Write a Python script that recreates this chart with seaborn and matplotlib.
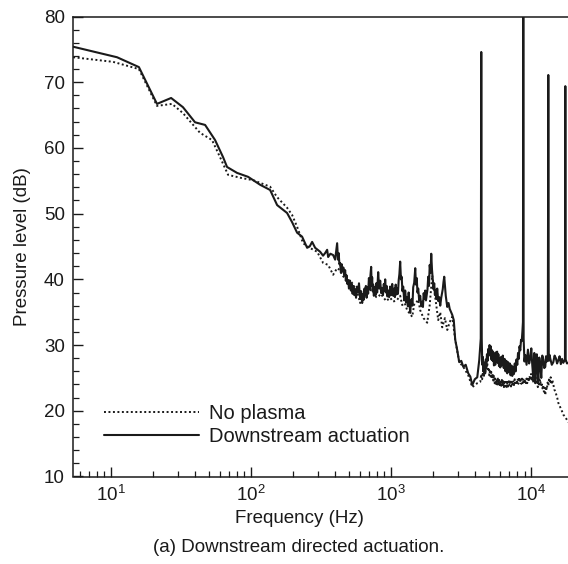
import matplotlib
matplotlib.use("Agg")
import matplotlib.pyplot as plt
import numpy as np
import pandas as pd
import seaborn as sns
from matplotlib.ticker import LogLocator, MultipleLocator, NullFormatter

# ---------------- data ----------------
freq_no_plasma = [
    5.4, 10.4, 15.9, 21.4, 27.4, 32.8, 43.4, 52.9, 60.3, 68.9,
    86.7, 103.8, 137.4, 154.2, 181.6, 197.2, 214.1, 236.3, 263, 297.6,
    328.5, 356.6, 387.1, 413, 434.4, 456, 487.4, 511, 538, 575,
    603.6, 633, 676.9, 711, 747.3, 786, 811.6, 846, 881, 926,
    988, 1038, 1109, 1165, 1204, 1255, 1307, 1374, 1420, 1470,
    1520, 1567, 1619, 1710, 1817, 1893, 1972, 2072, 2177, 2250,
    2325, 2430, 2525, 2630, 2741, 2879, 3075, 3285, 3566, 3808,
    4135,
    4344, 4420, 4480, 4540, 4600, 4660, 4716, 4770, 4820, 4874,
    4930, 4990, 5040, 5100, 5160, 5210, 5270, 5330, 5380, 5440,
    5500, 5559, 5620, 5680, 5745, 5810, 5870, 5930, 5990, 6060,
    6130, 6200, 6270, 6340, 6410, 6480, 6560, 6640, 6720, 6800,
    6880, 6960, 7040, 7120, 7200, 7290, 7380, 7470, 7560, 7650,
    7740, 7830, 7930, 8030, 8130, 8230, 8330, 8430, 8530, 8630,
    8740, 8850, 8960, 9070, 9180, 9290, 9400, 9520, 9640, 9760,
    9886, 10010, 10130, 10260, 10390, 10520, 10650, 10790, 10920, 11060,
    11190, 11330, 11470, 11620, 11760, 11910, 12060, 12210, 12360, 12520,
    12650, 12810, 12970, 13130, 13300, 13470, 13640, 13820, 14000, 14200,
    14440, 14680, 14920, 15170, 15420, 15670, 16000, 16330, 16670, 17010,
    17350, 17710, 18090, 18470, 19500,
]
level_no_plasma = [
    73.8, 73.1, 72.0, 66.4, 66.7, 65.3, 62.3, 61.2, 58.6, 55.9,
    55.4, 55.1, 54.1, 52.5, 50.9, 49.8, 48.0, 45.5, 44.8, 44.2,
    42.5, 42.2, 40.7, 41.7, 41.4, 40.5, 39.6, 39.9, 39.2, 38.1,
    36.4, 37.5, 37.6, 38.4, 38.1, 37.3, 37.3, 37.8, 37.3, 36.7,
    37.2, 36.6, 36.9, 37.5, 36.1, 36.4, 35.3, 34.7, 34.3, 36.3,
    36.5, 36.9, 35.3, 34.1, 33.4, 36.1, 40.6, 37.3, 33.8, 35.0,
    32.7, 34.1, 32.3, 33.5, 34.3, 30.8, 27.4, 26.7, 25.4, 23.6,
    24.2,
    24.4, 25.6, 24.8, 25.9, 25.1, 26.5, 25.7, 27.2, 26.4, 27.3,
    26.0, 26.6, 25.4, 26.3, 25.2, 25.9, 24.9, 25.6, 24.6, 25.3,
    24.2, 24.9, 23.9, 24.8, 24.0, 24.9, 23.9, 24.7, 23.7, 24.6,
    23.8, 24.7, 23.7, 24.5, 23.6, 24.6, 23.7, 24.4, 23.6, 24.6,
    23.7, 24.5, 23.8, 24.7, 23.7, 24.5, 23.7, 24.6, 23.9, 24.8,
    23.9, 24.6, 24.0, 24.9, 24.1, 25.1, 24.3, 25.0, 24.1, 24.9,
    24.2, 24.9, 24.1, 24.8, 24.0, 24.9, 24.2, 25.1, 24.4, 25.3,
    24.7, 25.6, 24.5, 25.3, 24.3, 25.0, 24.2, 25.1, 24.0, 24.7,
    23.6, 24.8, 24.0, 24.8, 23.8, 24.3, 23.4, 23.9, 22.9, 23.5,
    22.4, 23.7, 23.2, 24.3, 23.8, 25.0, 24.2, 25.1, 24.0, 24.7,
    24.0, 23.2, 23.0, 22.4, 21.9, 21.2, 20.8, 20.3, 19.9, 19.4,
    19.2, 18.9, 18.6, 18.3, 17.9,
]

freq_downstream = [
    5.4, 11.1, 15.9, 21.4, 27.0, 32.8, 40.0, 47.2, 55.6, 63.4, 67.7, 79.8, 95.7, 116.5,
    137.4, 154.2, 181.6, 197.2, 214.1, 232.4, 252.5, 263, 274.1, 288, 312.6, 328, 339.5,
    350.8, 356.6, 370, 387.1, 400,
    413.4, 419, 424, 429, 434, 440, 446, 452, 458, 465, 471.6, 477, 483, 489, 495.5, 502,
    511, 518, 526, 533, 540, 548, 556, 564, 573, 584, 592, 603, 613, 623.7, 632, 640, 648,
    655, 663, 671, 680, 688, 697, 705, 714, 723, 729, 735, 741, 747, 756, 766, 776, 786,
    798, 811.6, 825, 839, 853, 867, 878, 890, 900, 910.5, 922, 933, 945, 956.6, 972, 988,
    1005, 1022, 1039, 1056, 1069, 1082, 1096, 1109, 1123, 1137, 1150, 1165, 1180, 1194,
    1209, 1224, 1245, 1265, 1285, 1307, 1322, 1339, 1356, 1374, 1390, 1408, 1425, 1443,
    1467, 1492, 1510, 1529, 1548, 1567, 1592, 1619, 1646, 1673, 1694, 1714, 1736, 1758,
    1780, 1802, 1825, 1847, 1870, 1893, 1917, 1941, 1965, 1990, 2014, 2038, 2064, 2090,
    2115, 2141, 2177, 2213, 2250, 2287, 2315, 2345, 2374, 2403, 2433, 2464, 2494, 2525,
    2580, 2630, 2690, 2741, 2810, 2879,
    2960, 3075, 3180, 3285, 3420, 3566, 3690, 3808, 3970, 4135, 4272, 4380, 4416,
    4450, 4490, 4530, 4562, 4600, 4640, 4680, 4716, 4760, 4800,
    4850, 4900, 4950, 5010, 5060, 5121, 5170, 5220, 5280, 5330,
    5390, 5440, 5500, 5559, 5620, 5670, 5730, 5790, 5850, 5910,
    5970, 6036, 6120, 6200, 6290, 6390, 6480, 6580, 6680, 6773,
    6860, 6960, 7060, 7150, 7250, 7351, 7450, 7560, 7660, 7770,
    7870, 7985, 8080, 8180, 8280, 8385, 8490, 8590, 8680, 8760,
    8810, 8860,
    8980, 9100, 9300, 9510, 9700, 9886, 10050, 10210, 10380, 10560,
    10730, 10910, 11000, 11092, 11280, 11460, 11650, 11840, 12040, 12240,
    12440, 12650, 12800, 12960, 13180, 13290, 13400, 13570, 13740, 14080,
    14430, 14740, 15050, 15350, 15670, 16000, 16330, 16670, 17010, 17300,
    17480, 17580, 17680, 18070, 18470, 19500,
]
level_downstream = [
    75.4, 73.8, 72.3, 66.7, 67.6, 66.2, 63.9, 63.5, 61.2, 58.6, 57.1, 56.2, 55.6, 54.4,
    53.6, 51.3, 50.1, 48.7, 47.1, 46.5, 44.8, 45.0, 45.7, 44.8, 44.2, 43.6, 44.0,
    44.5, 43.4, 43.9, 43.7, 43.0,
    45.5, 43.0, 44.0, 42.3, 42.5, 41.0, 42.3, 41.2, 41.8, 40.6, 41.4, 39.8, 40.6, 39.3, 39.9, 38.6,
    39.8, 38.3, 39.3, 37.8, 39.0, 37.6, 38.5, 37.2, 38.9, 38.0, 39.4, 37.0, 38.2, 36.4, 37.8, 36.9, 38.6,
    37.7, 39.0, 37.2, 38.8, 37.9, 40.2, 38.5, 40.5, 41.9, 39.0, 40.3, 38.2, 39.2, 37.5, 38.8, 37.6, 39.4,
    38.0, 41.1, 38.6, 39.8, 37.9, 38.7, 37.6, 39.3, 38.2, 40.0, 38.0, 39.0, 37.4, 38.3, 37.3, 38.9,
    37.6, 39.3, 37.5, 38.6, 37.3, 39.2, 37.7, 38.6, 37.8, 39.9, 40.8, 42.7, 40.0, 40.4,
    38.2, 38.9, 36.8, 38.3, 36.5, 37.3, 35.9, 38.0, 36.4, 34.9, 36.5, 37.0, 36.0, 38.8,
    39.5, 41.7, 39.2, 40.2, 38.0, 38.6, 36.8, 37.5, 35.9, 36.6, 35.8, 37.9, 37.0, 38.3,
    36.8, 37.7, 38.5, 40.4, 39.0, 42.2, 41.0, 43.9, 41.5, 40.0, 38.5, 39.4, 37.6, 38.4,
    37.0, 38.6, 36.7, 37.3, 36.0, 37.2, 37.8, 38.5, 39.6, 40.4, 38.9, 37.5, 36.6, 35.8,
    36.4, 35.5, 35.0, 34.6, 33.8, 30.8,
    29.5, 27.4, 27.6, 26.7, 27.0, 25.7, 25.2, 23.9, 24.8, 25.1, 27.7, 31.0, 74.6,
    31.0, 27.0, 28.2, 26.0, 27.4, 25.6, 27.0, 25.9, 27.8, 26.8,
    28.6, 27.6, 29.4, 28.4, 30.0, 29.0, 29.8, 27.8, 29.2, 27.6,
    28.9, 26.9, 28.5, 27.0, 28.9, 27.4, 29.0, 27.3, 28.6, 26.8,
    28.0, 26.6, 28.2, 26.9, 28.4, 26.5, 27.9, 26.0, 27.6, 25.7,
    27.4, 25.9, 27.2, 25.4, 26.9, 25.3, 26.7, 25.6, 27.2, 26.0,
    27.8, 27.0, 28.8, 27.9, 29.8, 29.2, 30.8, 30.6, 32.0, 33.5,
    85.0, 31.0,
    27.5, 28.5, 27.0, 29.3, 27.2, 28.0, 29.5, 27.0, 25.0, 28.8,
    24.2, 26.9, 28.6, 27.4, 24.5, 28.1, 27.0, 25.0, 28.4, 27.8,
    26.5, 26.7, 28.3, 27.5, 28.0, 71.1, 27.6, 28.5, 27.9, 27.0,
    27.4, 28.4, 28.0, 27.2, 27.7, 28.3, 27.1, 27.9, 27.3, 27.6,
    27.8, 69.4, 27.8, 27.2, 27.3, 27.0,
]

series_labels = ["No plasma", "Downstream actuation"]
x_ticks = [10, 100, 1000, 10000]
x_tick_labels = [r"$10^{1}$", r"$10^{2}$", r"$10^{3}$", r"$10^{4}$"]
y_ticks = [10, 20, 30, 40, 50, 60, 70, 80]
x_label = "Frequency (Hz)"
y_label = "Pressure level (dB)"
caption = "(a) Downstream directed actuation."

# ---------------- style ----------------
sns.set_theme(style="ticks")
plt.rcParams["font.family"] = ["Liberation Sans", "DejaVu Sans"]
plt.rcParams["mathtext.fontset"] = "custom"
plt.rcParams["mathtext.rm"] = "Liberation Sans"
plt.rcParams["mathtext.it"] = "Liberation Sans:italic"
plt.rcParams["mathtext.bf"] = "Liberation Sans:bold"

FS = 13.5
FS_LEG = 14.5
ink = "#1a1a1a"

W, H = 568, 564
fig = plt.figure(figsize=(W / 100, H / 100), dpi=100)
left_px, right_px, top_px, bottom_px = 73.3, 577.0, 16.5, 476.5
ax = fig.add_axes([left_px / W, 1 - bottom_px / H,
                   (right_px - left_px) / W, (bottom_px - top_px) / H])
ax.set_xscale("log")

sns.lineplot(x=freq_no_plasma, y=level_no_plasma, ax=ax, color=ink, lw=1.4,
             linestyle=(0, (1, 1.3)), estimator=None, sort=False,
             label=series_labels[0])
sns.lineplot(x=freq_downstream, y=level_downstream, ax=ax, color=ink, lw=1.5,
             linestyle="-", estimator=None, sort=False,
             label=series_labels[1])

ax.set_xlim(5.41, 21300)
ax.set_ylim(10, 80)

ax.set_xticks(x_ticks)
ax.set_xticklabels(x_tick_labels)
ax.xaxis.set_minor_locator(LogLocator(base=10, subs=np.arange(2, 10)))
ax.xaxis.set_minor_formatter(NullFormatter())
ax.set_yticks(y_ticks)
ax.yaxis.set_minor_locator(MultipleLocator(2))

ax.tick_params(which="both", direction="in", top=False, right=False,
               colors=ink, labelsize=FS, labelcolor=ink)
ax.tick_params(which="major", length=7.5, width=1.0, pad=6)
ax.tick_params(which="minor", length=4.5, width=0.9)

for s in ["left", "bottom", "top"]:
    ax.spines[s].set_linewidth(1.1)
    ax.spines[s].set_color(ink)
ax.spines["right"].set_visible(False)

ax.set_xlabel(x_label, fontsize=FS, color=ink)
ax.set_ylabel(y_label, fontsize=FS, color=ink)
ax.xaxis.set_label_coords((299 - left_px) / (right_px - left_px),
                          (bottom_px - 510) / (bottom_px - top_px))
ax.yaxis.set_label_coords((31 - left_px) / (right_px - left_px), 0.5)

leg = ax.legend(loc="upper left", bbox_to_anchor=(104 / W, 1 - 404 / H),
                bbox_transform=fig.transFigure, frameon=False, fontsize=FS_LEG,
                handlelength=4.7, handletextpad=0.5, labelspacing=0.2,
                borderpad=0, borderaxespad=0)
for t in leg.get_texts():
    t.set_color(ink)

fig.text(299 / W, 1 - 548 / H, caption, ha="center", va="center",
         fontsize=FS, color=ink)

fig.savefig("out.png", dpi=100)
